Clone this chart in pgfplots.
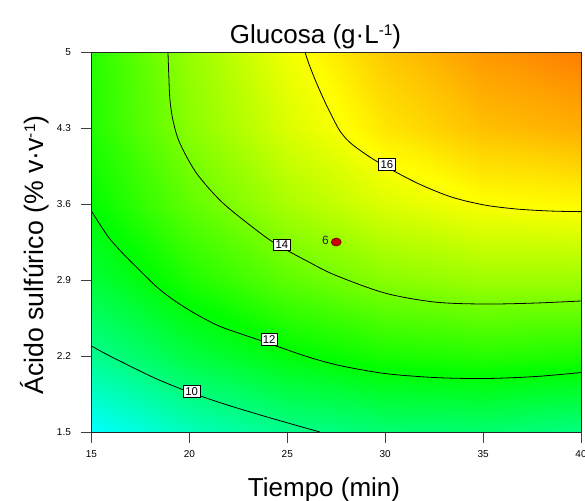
\documentclass[border=0pt]{standalone}
\usepackage{fontspec}
\setmainfont{Liberation Sans}
\usepackage{pgfplots}
\pgfplotsset{compat=1.18}
\newcommand{\supm}[1]{\raisebox{6pt}{\fontsize{11.5}{11.5}\selectfont #1}}
\begin{document}
\begin{tikzpicture}
\begin{axis}[
  name=ax,
  view={0}{90},
  scale only axis,
  width=367.1pt, height=285pt,
  xmin=15, xmax=40, ymin=1.5, ymax=5,
  enlargelimits=false,
  axis on top,
  colormap={de}{rgb255(0cm)=(0,255,255); rgb255(1cm)=(0,255,0); rgb255(2cm)=(255,255,0); rgb255(3cm)=(255,0,0)},
  point meta min=8, point meta max=20,
  xtick={15,20,25,30,35,40},
  ytick={1.5,2.2,2.9,3.6,4.3,5},
  yticklabels={1.5,2.2,2.9,3.6,4.3,5},
  tick align=outside,
  tick pos=left,
  major tick length=8pt,
  tick style={black!75, line width=0.5pt},
  axis line style={black!85, line width=0.6pt},
  ticklabel style={font=\fontsize{7.5}{8}\selectfont},
  xticklabel style={yshift=-2.3pt},
  yticklabel style={xshift=-3.9pt},
  /pgf/number format/assume math mode=true,
]
\addplot3[surf, shader=interp, mesh/rows=6, mesh/cols=6] table {
x y z
15 1.5 7.979
20 1.5 9.056
25 1.5 9.795
30 1.5 10.195
35 1.5 10.258
40 1.5 9.983
15 2.2 9.752
20 2.2 10.967
25 2.2 11.843
30 2.2 12.380
35 2.2 12.581
40 2.2 12.443
15 2.9 11.101
20 2.9 12.452
25 2.9 13.466
30 2.9 14.141
35 2.9 14.478
40 2.9 14.478
15 3.6 12.023
20 3.6 13.512
25 3.6 14.662
30 3.6 15.475
35 3.6 15.950
40 3.6 16.086
15 4.3 12.520
20 4.3 14.145
25 4.3 15.433
30 4.3 16.384
35 4.3 16.995
40 4.3 17.269
15 5.0 12.591
20 5.0 14.354
25 5.0 15.779
30 5.0 16.867
35 5.0 17.616
40 5.0 18.027
};
% contour 16
\addplot[black, line width=0.6pt, smooth, tension=0.5] coordinates {
(25.904,5.0) (26.108,4.889) (26.501,4.711) (26.976,4.520) (27.436,4.354) (27.691,4.272) (28.049,4.193) (28.457,4.129) (29.223,4.032) (30.076,3.940) (31.690,3.788) (33.390,3.664) (35.097,3.590) (36.782,3.553) (38.519,3.535) (40,3.530)};
% contour 14
\addplot[black, line width=0.6pt, smooth, tension=0.5] coordinates {
(18.907,5.0) (18.948,4.787) (19.009,4.557) (19.178,4.357) (19.520,4.158) (20.373,3.882) (21.731,3.606) (23.759,3.314) (24.729,3.200) (26.006,3.075) (27.436,2.946) (29.989,2.780) (32.543,2.697) (35.097,2.679) (37.650,2.688) (40,2.707)};
% contour 12
\addplot[black, line width=0.6pt, smooth, tension=0.5] coordinates {
(15,3.535) (15.485,3.397) (15.945,3.277) (16.609,3.144) (17.477,2.987) (18.345,2.835) (19.162,2.720) (20.031,2.619) (20.848,2.536) (21.716,2.462) (23.861,2.329) (26.006,2.195) (27.691,2.112) (29.989,2.039) (32.543,2.002) (35.097,1.993) (37.650,2.011) (40,2.048)};
% contour 10
\addplot[black, line width=0.6pt, smooth, tension=0.5] coordinates {
(15,2.292) (15.792,2.214) (16.609,2.140) (17.477,2.062) (18.345,1.988) (19.264,1.919) (20.133,1.859) (21.716,1.762) (23.453,1.666) (25.138,1.578) (26.670,1.5)};
% design point
\addplot[only marks, mark=*, mark size=3pt, mark options={fill=red!80!black, draw=black!60!red, line width=0.5pt, xscale=1.25}] coordinates {(27.5,3.25)};
\node[anchor=east, inner sep=0pt, text=black!85, font=\fontsize{9}{9}\selectfont] at (axis cs:27.13,3.262) {6};
\tikzset{clab/.style={draw=black, fill=white, line width=0.5pt, inner xsep=1.4pt, inner ysep=1.5pt, font=\fontsize{8.5}{8.5}\selectfont}}
\node[clab] at (axis cs:30.09,3.967) {16};
\node[clab] at (axis cs:24.72,3.225) {14};
\node[clab] at (axis cs:24.07,2.35) {12};
\node[clab] at (axis cs:20.12,1.871) {10};
\end{axis}
\node[anchor=base, font=\fontsize{19.5}{20}\selectfont] at (168pt,291.4pt) {Glucosa (g·L\supm{-1})};
\node[anchor=base, font=\fontsize{19.5}{20}\selectfont] at (174.4pt,-48pt) {Tiempo (min)};
\node[anchor=base, rotate=90, font=\fontsize{20}{20}\selectfont] at (-36.2pt,132.75pt) {Ácido sulfúrico (\% v·v\supm{-1})};
\pgfresetboundingbox
\path[use as bounding box] (-68.6pt,-51pt) rectangle (370.1pt,324pt);
\end{tikzpicture}
\end{document}
